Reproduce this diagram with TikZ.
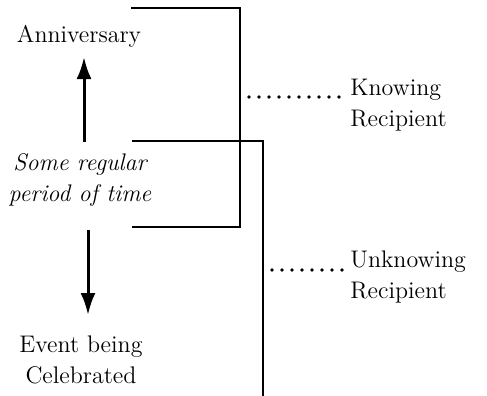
\documentclass[tikz,border=0pt]{standalone}
\usepackage{amsmath}
\usepackage{tikz}
\usetikzlibrary{arrows.meta}

\begin{document}
\begin{tikzpicture}[x=0.5pt,y=-0.5pt,
    txt/.style={font=\fontsize{12}{15.5}\selectfont, align=center, inner sep=1pt},
    bigarrow/.style={line width=1.5pt, -{Latex[length=11pt,width=7.5pt]}},
    bracket/.style={line width=0.55pt},
    dots/.style={line width=1.9pt, line cap=round, dash pattern=on 0pt off 5pt}]
    \useasboundingbox (0,0) rectangle (487,396);
    \node[txt] (ann) at (79,36) {Anniversary};
    \node[txt, font=\fontsize{12}{15.5}\selectfont\itshape] (period) at (80,180) {Some regular\\period of time};
    \node[txt] (event) at (81,360) {Event being\\Celebrated};
    \node[txt, anchor=west, align=left] (know) at (348,105) {Knowing\\Recipient};
    \node[txt, anchor=west, align=left] (unknow) at (348,277) {Unknowing\\Recipient};
    \draw[bigarrow] (84,142) -- (84,57);
    \draw[bigarrow] (88,230) -- (88,315);
    % two brackets
    \draw[bracket] (131,8) -- (240,8) -- (240,227) -- (132,227);
    \draw[bracket] (132,141) -- (263,141) -- (263,396);
    \coordinate (k1) at (249,97);
    \coordinate (u1) at (272,270);
    \draw[dots] (k1) -- (know.west |- k1);
    \draw[dots] (u1) -- (unknow.west |- u1);
\end{tikzpicture}
\end{document}
